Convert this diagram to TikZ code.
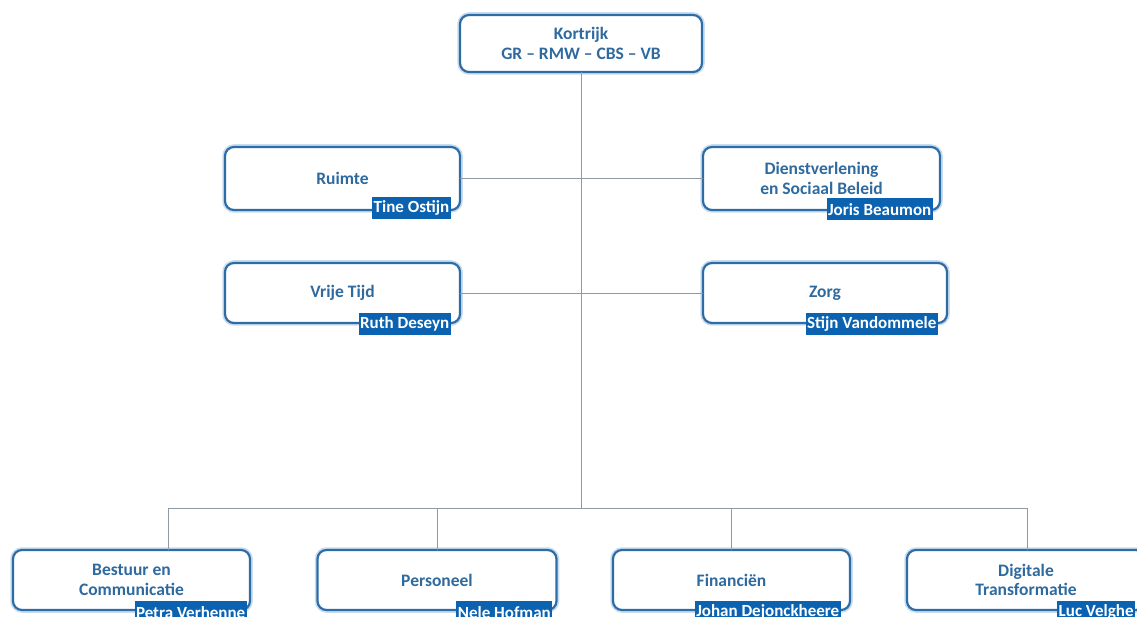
\documentclass[tikz,border=0pt]{standalone}
\usepackage{fontspec}
\setmainfont{Carlito}
\usepackage{tikz}
\usetikzlibrary{positioning}

\definecolor{boxblue}{HTML}{2E6CA6}
\definecolor{glowblue}{HTML}{C9DDF0}
\definecolor{textblue}{HTML}{2F6A9F}
\definecolor{tagblue}{HTML}{0A62B0}
\definecolor{linegray}{HTML}{8E9AA6}

\tikzset{
  dept/.style={draw=boxblue, line width=2.2pt, fill=white, rounded corners=9pt,
    preaction={draw=glowblue, line width=5.5pt},
    outer sep=0pt, align=center, text=textblue,
    font=\fontsize{17.5}{19.5}\selectfont\bfseries, minimum height=60pt},
  tag/.style={fill=tagblue, text=white, inner sep=1.5pt, minimum height=22pt,
    font=\fontsize{17}{19}\selectfont\bfseries, anchor=north east},
  link/.style={draw=linegray, line width=0.9pt}
}

\begin{document}
\begin{tikzpicture}[x=1pt,y=-1pt]
\useasboundingbox (0,0) rectangle (1137,617);
\node[dept, minimum width=242pt, minimum height=57pt] (kortrijk) at (581,43.5) {Kortrijk\\GR -- RMW -- CBS -- VB};
	\node[dept, minimum width=235pt, minimum height=63pt] (ruimte) at (342.5,178.5) {Ruimte};
	\node[dept, minimum width=237pt, minimum height=63pt] (dienst) at (821.5,178.5) {Dienstverlening\\en Sociaal Beleid};
	\node[dept, minimum width=235pt] (vrijetijd) at (342.5,293) {Vrije Tijd};
	\node[dept, minimum width=244pt] (zorg) at (825,293) {Zorg};
	\node[dept, minimum width=237pt] (bestuur) at (131.5,580) {Bestuur en\\Communicatie};
	\node[dept, minimum width=239pt] (personeel) at (437,580) {Personeel};
	\node[dept, minimum width=237pt] (financien) at (731.5,580) {Financiën};
	\node[dept, minimum width=238pt] (digitaal) at (1026,580) {Digitale\\Transformatie};

	\node[tag] (tine) at ([xshift=-9pt,yshift=13pt]ruimte.south east) {Tine Ostijn};
	\node[tag] (joris) at ([xshift=-7pt,yshift=12pt]dienst.south east) {Joris Beaumon};
	\node[tag] (ruth) at ([xshift=-9pt,yshift=10pt]vrijetijd.south east) {Ruth Deseyn};
	\node[tag] (stijn) at ([xshift=-9pt,yshift=10pt]zorg.south east) {Stijn Vandommele};
	\node[tag] (petra) at ([xshift=-3pt,yshift=9pt]bestuur.south east) {Petra Verhenne};
	\node[tag] (nele) at ([xshift=-4pt,yshift=9pt]personeel.south east) {Nele Hofman};
	\node[tag] (johan) at ([xshift=-9pt,yshift=9pt]financien.south east) {Johan Dejonckheere};
	\node[tag, anchor=north west] (luc) at ([xshift=150pt,yshift=9pt]digitaal.south west) {Luc Velghe};

	\coordinate (bus) at (581,508);
	\coordinate (busleft) at (168,508);
	\coordinate (busright) at (1027,508);

	\draw[link] (kortrijk) -- (bus);
	\draw[link] (ruimte) -- (dienst);
	\draw[link] (vrijetijd) -- (zorg);
	\draw[link] (busleft) -- (busright);
	\draw[link] (busleft) -- (busleft |- bestuur.north);
	\draw[link] (personeel |- bus) -- (personeel);
	\draw[link] (financien |- bus) -- (financien);
	\draw[link] (busright) -- (busright |- digitaal.north);
\end{tikzpicture}
\end{document}
